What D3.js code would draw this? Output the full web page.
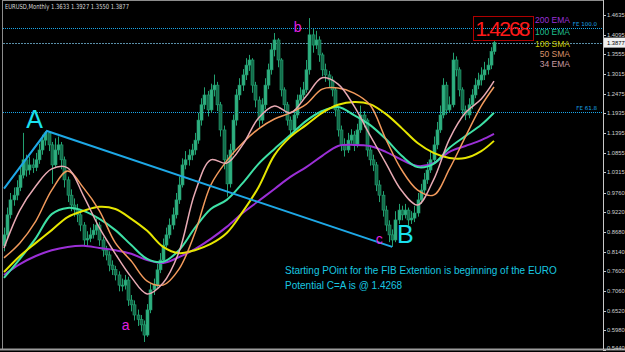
<!DOCTYPE html>
<html>
<head>
<meta charset="utf-8">
<script src="https://cdn.jsdelivr.net/npm/d3@7"></script>
<style>
  body { margin: 0; background: #000; }
  svg { display: block; }
</style>
</head>
<body>
<div id="chart"></div>
<script>
// monthly bars (open of a bar = close of the bar before)
const firstOpen = 0.830;
const closes = [
  0.860, 0.915, 0.956, 0.969, 0.990, 1.024, 1.066, 1.038, 1.052, 1.045,
  1.066, 1.093, 1.120, 1.140, 1.107, 1.052, 1.093, 1.107, 1.066, 1.011,
  0.969, 0.942, 0.930, 0.915, 0.887, 0.846, 0.850, 0.860, 0.873, 0.887,
  0.846, 0.818, 0.805, 0.777, 0.765, 0.750, 0.722, 0.722, 0.736, 0.681,
  0.668, 0.640, 0.628, 0.613, 0.585, 0.654, 0.709, 0.722, 0.764, 0.791,
  0.832, 0.860, 0.887, 0.915, 0.956, 0.997, 1.052, 1.066, 1.079, 1.093,
  1.120, 1.175, 1.217, 1.244, 1.203, 1.258, 1.271, 1.217, 1.148, 1.066,
  1.000, 1.093, 1.175, 1.244, 1.271, 1.299, 1.326, 1.340, 1.271, 1.230,
  1.175, 1.217, 1.271, 1.313, 1.368, 1.395, 1.340, 1.258, 1.217, 1.175,
  1.148, 1.189, 1.230, 1.244, 1.258, 1.313, 1.409, 1.381, 1.395, 1.354,
  1.313, 1.299, 1.285, 1.258, 1.203, 1.148, 1.107, 1.093, 1.120, 1.134,
  1.107, 1.148, 1.189, 1.175, 1.093, 1.066, 1.052, 0.997, 0.969, 0.928,
  0.887, 0.860, 0.846, 0.901, 0.928, 0.915, 0.928, 0.901, 0.906, 0.920,
  0.956, 0.983, 1.011, 1.038, 1.066, 1.107, 1.148, 1.189, 1.271, 1.203,
  1.217, 1.340, 1.313, 1.258, 1.203, 1.189, 1.217, 1.244, 1.271, 1.285,
  1.299, 1.313, 1.326, 1.3633, 1.3877
];
const highs = [
  0.880, 0.935, 0.975, 0.990, 1.010, 1.045, 1.140, 1.080, 1.075, 1.070,
  1.085, 1.110, 1.135, 1.145, 1.145, 1.115, 1.125, 1.130, 1.115, 1.075,
  1.020, 0.985, 0.960, 0.945, 0.925, 0.895, 0.870, 0.880, 0.890, 0.905,
  0.895, 0.855, 0.830, 0.815, 0.790, 0.775, 0.760, 0.740, 0.750, 0.745,
  0.695, 0.680, 0.655, 0.640, 0.625, 0.670, 0.725, 0.740, 0.780, 0.810,
  0.850, 0.880, 0.905, 0.935, 0.975, 1.020, 1.070, 1.090, 1.095, 1.110,
  1.140, 1.195, 1.235, 1.265, 1.255, 1.275, 1.300, 1.280, 1.225, 1.160,
  1.080, 1.110, 1.190, 1.260, 1.290, 1.315, 1.345, 1.354, 1.345, 1.280,
  1.240, 1.235, 1.290, 1.330, 1.385, 1.414, 1.400, 1.345, 1.265, 1.225,
  1.185, 1.205, 1.245, 1.265, 1.280, 1.340, 1.455, 1.425, 1.420, 1.405,
  1.360, 1.330, 1.310, 1.295, 1.265, 1.210, 1.160, 1.125, 1.140, 1.150,
  1.145, 1.165, 1.215, 1.200, 1.180, 1.105, 1.080, 1.060, 1.010, 0.980,
  0.940, 0.900, 0.875, 0.925, 0.945, 0.940, 0.945, 0.935, 0.925, 0.940,
  0.975, 1.000, 1.030, 1.060, 1.090, 1.130, 1.170, 1.215, 1.290, 1.280,
  1.240, 1.360, 1.350, 1.320, 1.265, 1.215, 1.235, 1.260, 1.290, 1.305,
  1.320, 1.335, 1.345, 1.375, 1.3927
];
const lows = [
  0.815, 0.850, 0.905, 0.940, 0.955, 0.980, 1.015, 1.020, 1.025, 1.030,
  1.035, 1.055, 1.080, 1.105, 1.090, 1.000, 1.045, 1.080, 1.040, 0.990,
  0.950, 0.925, 0.910, 0.895, 0.870, 0.830, 0.830, 0.840, 0.850, 0.860,
  0.830, 0.800, 0.790, 0.760, 0.750, 0.735, 0.705, 0.705, 0.710, 0.665,
  0.650, 0.625, 0.610, 0.595, 0.566, 0.580, 0.645, 0.695, 0.715, 0.755,
  0.780, 0.825, 0.850, 0.875, 0.905, 0.945, 0.990, 1.040, 1.050, 1.065,
  1.080, 1.110, 1.160, 1.205, 1.185, 1.195, 1.240, 1.200, 1.130, 1.040,
  0.965, 0.990, 1.080, 1.160, 1.230, 1.255, 1.285, 1.310, 1.250, 1.210,
  1.155, 1.165, 1.205, 1.260, 1.300, 1.350, 1.320, 1.240, 1.200, 1.160,
  1.130, 1.140, 1.180, 1.220, 1.235, 1.250, 1.300, 1.360, 1.370, 1.335,
  1.295, 1.280, 1.265, 1.240, 1.185, 1.130, 1.090, 1.075, 1.085, 1.110,
  1.090, 1.100, 1.140, 1.155, 1.075, 1.050, 1.035, 0.980, 0.950, 0.910,
  0.870, 0.840, 0.827, 0.840, 0.890, 0.900, 0.905, 0.885, 0.890, 0.895,
  0.910, 0.945, 0.975, 1.000, 1.030, 1.055, 1.095, 1.140, 1.180, 1.190,
  1.195, 1.210, 1.295, 1.240, 1.190, 1.175, 1.180, 1.205, 1.235, 1.260,
  1.270, 1.285, 1.300, 1.315, 1.355
];

// moving averages, sampled every 5 bars
const maIndex = [0, 5, 10, 15, 20, 25, 30, 35, 40, 45, 50, 55, 60, 65, 70, 75,
  80, 85, 90, 95, 100, 105, 110, 115, 120, 125, 130, 135, 140, 145, 150, 154];
const ema200 = [0.750, 0.780, 0.802, 0.818, 0.827, 0.830, 0.824, 0.818, 0.808, 0.791, 0.783, 0.799, 0.821, 0.849, 0.882, 0.920,
  0.953, 0.986, 1.019, 1.046, 1.077, 1.104, 1.107, 1.104, 1.088, 1.066, 1.049, 1.057, 1.088, 1.104, 1.120, 1.137];
const ema100 = [0.742, 0.794, 0.851, 0.917, 0.934, 0.926, 0.904, 0.873, 0.832, 0.794, 0.786, 0.818, 0.879, 0.931, 0.956, 1.002,
  1.055, 1.096, 1.134, 1.173, 1.200, 1.211, 1.189, 1.162, 1.123, 1.077, 1.046, 1.055, 1.099, 1.131, 1.162, 1.195];
const sma100 = [0.758, 0.802, 0.838, 0.873, 0.909, 0.926, 0.937, 0.931, 0.904, 0.871, 0.827, 0.810, 0.818, 0.835, 0.865, 0.923,
  0.991, 1.079, 1.129, 1.162, 1.195, 1.217, 1.225, 1.219, 1.192, 1.153, 1.112, 1.085, 1.071, 1.071, 1.090, 1.118];
const sma50 = [0.797, 0.838, 0.898, 0.983, 1.035, 0.989, 0.926, 0.838, 0.788, 0.733, 0.722, 0.766, 0.865, 0.997, 1.063, 1.112,
  1.151, 1.178, 1.195, 1.219, 1.260, 1.263, 1.249, 1.217, 1.123, 1.038, 0.983, 0.969, 1.041, 1.129, 1.214, 1.266];
const ema34 = [0.824, 0.928, 0.994, 1.041, 1.044, 0.967, 0.879, 0.808, 0.744, 0.698, 0.728, 0.813, 0.975, 1.066, 1.057, 1.107,
  1.181, 1.214, 1.195, 1.241, 1.291, 1.274, 1.214, 1.134, 1.057, 0.981, 0.942, 1.011, 1.123, 1.195, 1.233, 1.282];
const maNames = ["200 EMA", "100 EMA", "100 SMA", "50 SMA", "34 EMA"];

// price scale labels
const priceTicks = ["1.4635", "1.4095", "1.3555", "1.3015", "1.2475", "1.1935", "1.1395", "1.0855", "1.0315",
  "0.9760", "0.9220", "0.8680", "0.8140", "0.7600", "0.7060", "0.6520", "0.5980", "0.5440"];

// fib extension levels
const fibNames = ["FE 100.0", "FE 61.8"];
const fibValues = [1.4268, 1.1977];

// trend line A -> c (bar index, price)
const trendBars = [0, 13.5, 122];
const trendPrices = [0.987, 1.145, 0.827];

// wave labels (bar index, price)
const waveNames = ["A", "a", "b", "B", "c"];
const waveBars = [9.6, 38.2, 92.3, 126.1, 117.9];
const wavePrices = [1.153, 0.599, 1.417, 0.838, 0.835];

const notes = ["Starting POint for the FIB Extention is beginning of the EURO", "Potential C=A is @ 1.4268"];

// set the dimensions
const width = 625, height = 352;
const plotLeft = 3, plotRight = 603, plotTop = 1, plotBottom = 349;

const svg = d3.select("#chart")
  .append("svg")
  .attr("width", width)
  .attr("height", height)
  .style("background", "#000");

const x = d3.scaleLinear().domain([0, closes.length - 1]).range([4, 494]);
const y = d3.scaleLinear().domain([0.544, 1.4635]).range([350, 15]);

svg.append("clipPath").attr("id", "plot")
  .append("rect")
  .attr("x", plotLeft).attr("y", plotTop)
  .attr("width", plotRight - plotLeft).attr("height", plotBottom - plotTop);

const plot = svg.append("g").attr("clip-path", "url(#plot)");

// fib lines and bid line
plot.selectAll("fibLines")
  .data(fibValues)
  .join("line")
  .attr("x1", plotLeft).attr("x2", plotRight)
  .attr("y1", d => Math.round(y(d)) + 0.5).attr("y2", d => Math.round(y(d)) + 0.5)
  .attr("stroke", "#1aa6e8")
  .attr("stroke-dasharray", "1,1");

plot.append("line")
  .attr("x1", plotLeft).attr("x2", plotRight)
  .attr("y1", Math.round(y(closes[closes.length - 1])) + 0.5)
  .attr("y2", Math.round(y(closes[closes.length - 1])) + 0.5)
  .attr("stroke", "#5a8fa8")
  .attr("stroke-dasharray", "2,1");

// candles
const bars = closes.map((c, i) => ({
  i: i,
  open: i === 0 ? firstOpen : closes[i - 1],
  close: c,
  high: highs[i],
  low: lows[i]
}));

plot.selectAll("wicks")
  .data(bars)
  .join("line")
  .attr("x1", d => Math.round(x(d.i)) + 0.5)
  .attr("x2", d => Math.round(x(d.i)) + 0.5)
  .attr("y1", d => y(d.high))
  .attr("y2", d => y(d.low))
  .attr("stroke", "#22a070")
  .attr("stroke-width", 1);

plot.selectAll("bodies")
  .data(bars)
  .join("rect")
  .attr("x", d => Math.round(x(d.i)) - 1)
  .attr("width", 3)
  .attr("y", d => y(Math.max(d.open, d.close)))
  .attr("height", d => Math.max(1, Math.abs(y(d.open) - y(d.close))))
  .attr("fill", d => d.close >= d.open ? "#2fae80" : "#146b4b")
  .attr("stroke", "#22a070")
  .attr("stroke-width", 0.6);

// moving averages
const maSeries = [ema200, ema100, sma100, sma50, ema34];
const maColors = ["#9b2fd6", "#3ee0a6", "#e6e600", "#f29a5c", "#e8aab4"];
const maText = ["#9b30d9", "#1fbf8f", "#c8c800", "#d9926a", "#c89ba0"];
const maWidths = [2, 2, 2, 1.5, 1.5];

const maLine = d3.line()
  .x(d => x(d[0]))
  .y(d => y(d[1]))
  .curve(d3.curveCatmullRom);

plot.selectAll("maLines")
  .data(maSeries)
  .join("path")
  .attr("d", s => maLine(s.map((v, k) => [maIndex[k], v])))
  .attr("fill", "none")
  .attr("stroke", (s, k) => maColors[k])
  .attr("stroke-width", (s, k) => maWidths[k]);

// trend line
const trendLine = d3.line().x(d => x(d[0])).y(d => y(d[1]));
plot.append("path")
  .attr("d", trendLine(trendBars.map((b, k) => [b, trendPrices[k]])))
  .attr("fill", "none")
  .attr("stroke", "#1ea8e6")
  .attr("stroke-width", 2);

// wave labels
plot.selectAll("waves")
  .data(waveNames)
  .join("text")
  .attr("x", (d, k) => x(waveBars[k]))
  .attr("y", (d, k) => y(wavePrices[k]))
  .attr("text-anchor", "middle")
  .style("font-family", "Liberation Sans, Arial, sans-serif")
  .style("font-size", d => d === d.toUpperCase() ? "25px" : "14px")
  .style("fill", d => d === d.toUpperCase() ? "#19e0ee" : "#e020e0")
  .text(d => d);

// frame
svg.append("line").attr("x1", plotLeft - 0.5).attr("x2", plotLeft - 0.5).attr("y1", 0).attr("y2", plotBottom)
  .attr("stroke", "#8c8c8c");
svg.append("line").attr("x1", 0).attr("x2", width).attr("y1", plotBottom + 0.5).attr("y2", plotBottom + 0.5)
  .attr("stroke", "#9c9c9c").attr("stroke-width", 2);
svg.append("line").attr("x1", plotLeft).attr("x2", plotRight).attr("y1", 0.5).attr("y2", 0.5)
  .attr("stroke", "#8c8c8c");
svg.append("line").attr("x1", plotRight + 0.5).attr("x2", plotRight + 0.5).attr("y1", 0).attr("y2", plotBottom)
  .attr("stroke", "#c8c8c8");

// price axis
const axis = svg.append("g");
axis.selectAll("ticks")
  .data(priceTicks)
  .join("line")
  .attr("x1", plotRight).attr("x2", plotRight + 3)
  .attr("y1", d => Math.round(y(+d)) + 0.5).attr("y2", d => Math.round(y(+d)) + 0.5)
  .attr("stroke", "#c8c8c8");
axis.selectAll("tickLabels")
  .data(priceTicks)
  .join("text")
  .attr("x", plotRight + 4)
  .attr("y", d => Math.min(y(+d) + 2, 350))
  .style("font-family", "Liberation Sans, Arial, sans-serif")
  .style("font-size", "5.8px")
  .style("fill", "#d0d0d0")
  .text(d => d);

// current price tag
const last = bars[bars.length - 1];
axis.append("rect")
  .attr("x", plotRight + 1).attr("y", y(last.close) - 5)
  .attr("width", width - plotRight - 1).attr("height", 10)
  .attr("fill", "#f0f0f0");
axis.append("text")
  .attr("x", plotRight + 4).attr("y", y(last.close) + 2)
  .style("font-family", "Liberation Sans, Arial, sans-serif")
  .style("font-size", "5.8px")
  .style("fill", "#000")
  .text(last.close.toFixed(4));

// fib labels
svg.selectAll("fibLabels")
  .data(fibNames)
  .join("text")
  .attr("x", plotRight - 6)
  .attr("y", (d, k) => y(fibValues[k]) - 2)
  .attr("text-anchor", "end")
  .style("font-family", "DejaVu Sans, sans-serif")
  .style("font-size", "5.5px")
  .style("fill", "#1aa6e8")
  .text(d => d);

// header
svg.append("text")
  .attr("x", 5).attr("y", 9)
  .attr("textLength", 124)
  .attr("lengthAdjust", "spacingAndGlyphs")
  .style("font-family", "DejaVu Sans, sans-serif")
  .style("font-size", "7px")
  .style("fill", "#d8d8d8")
  .text(`EURUSD,Monthly  ${last.open.toFixed(4)} ${last.high.toFixed(4)} ${last.low.toFixed(4)} ${last.close.toFixed(4)}`);

// big target box
svg.append("rect")
  .attr("x", 473.5).attr("y", 16.5).attr("width", 60).attr("height", 24)
  .attr("fill", "none").attr("stroke", "#b00000");
svg.append("text")
  .attr("x", 503).attr("y", 36)
  .attr("text-anchor", "middle")
  .attr("textLength", 55)
  .style("font-family", "Liberation Sans, Arial, sans-serif")
  .style("font-size", "21px")
  .style("fill", "#ff1a1a")
  .text(fibValues[0].toFixed(4));

// legend
svg.selectAll("legend")
  .data(maNames)
  .join("text")
  .attr("x", 570)
  .attr("y", (d, k) => [22.5, 34.5, 46.5, 56.5, 66.5][k])
  .attr("text-anchor", "end")
  .style("font-family", "Liberation Sans, Arial, sans-serif")
  .style("font-size", "8.5px")
  .style("fill", (d, k) => maText[k])
  .text(d => d);

// notes
svg.selectAll("notes")
  .data(notes)
  .join("text")
  .attr("x", 285)
  .attr("y", (d, k) => 274 + k * 15)
  .style("font-family", "Liberation Sans, Arial, sans-serif")
  .style("font-size", "10px")
  .style("fill", "#18c8e0")
  .text(d => d);
</script>
</body>
</html>
